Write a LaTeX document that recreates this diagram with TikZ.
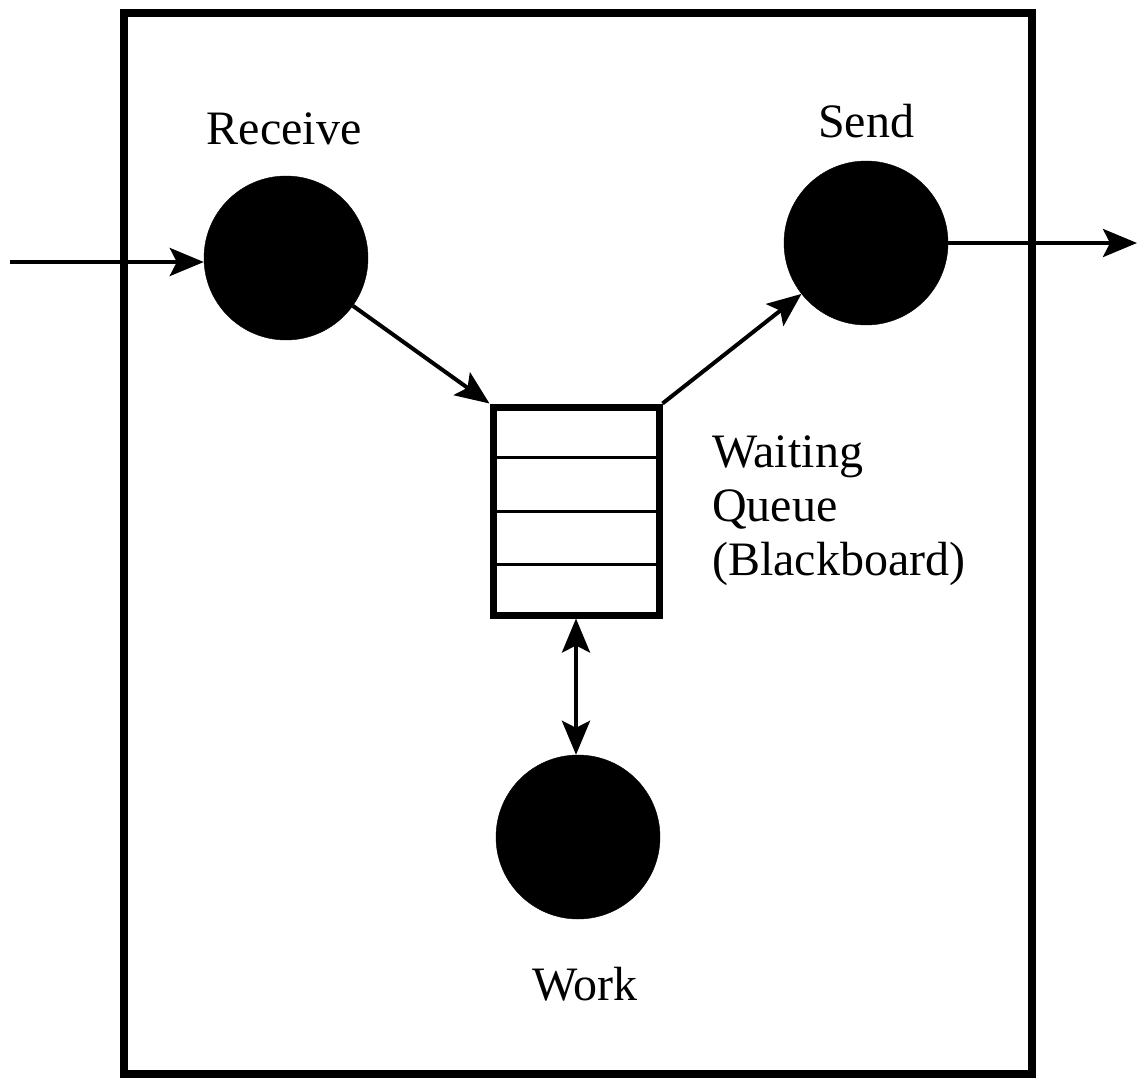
\documentclass[tikz,border=0pt]{standalone}
\usepackage{fontspec}
\setmainfont{Liberation Serif}
\usetikzlibrary{arrows.meta,calc}
\begin{document}
\begin{tikzpicture}[x=1pt,y=-1pt,
  proc/.style={circle,fill=black,draw=black,minimum size=164pt,inner sep=0pt},
  queuebox/.style={draw=black,line width=7pt,minimum width=166pt,minimum height=208pt,inner sep=0pt},
  frame/.style={draw=black,line width=8pt,minimum width=908pt,minimum height=1061pt,inner sep=0pt},
  arr/.style={line width=4pt,-{Stealth[length=34pt,width=28pt,inset=7pt]}},
  darr/.style={line width=4pt,{Stealth[length=34pt,width=28pt,inset=7pt]}-{Stealth[length=34pt,width=28pt,inset=7pt]}},
  lbl/.style={font=\fontsize{48}{54}\selectfont,inner sep=0pt}]
\useasboundingbox (0,0) rectangle (1139,1081);
\node[frame] (box) at (578,543.5) {};
\node[proc] (recv) at (286,258) {};
\node[proc] (send) at (866,243) {};
\node[proc] (work) at (578,837) {};
\node[queuebox] (q) at (576,511) {};
\foreach \f in {0.25,0.5,0.75}
  \draw[line width=3pt] ($(q.north west)!\f!(q.south west)$) -- ($(q.north east)!\f!(q.south east)$);
\node[lbl,anchor=base] (lrecv) at (284,144) {Receive};
\node[lbl,anchor=base] (lsend) at (866,137) {Send};
\node[lbl,anchor=base] (lwork) at (585,1000) {Work};
\node[lbl,anchor=base west,align=left] (lq) at (712,575) {Waiting\\Queue\\(Blackboard)};
\coordinate (in) at (10,262);
\coordinate (out) at (1137,243);
\draw[arr] (in) -- (in -| recv.west);
\draw[arr] (send.east) -- (out);
\draw[arr] (recv) -- (q.north west);
\draw[arr] (q.north east) -- (send);
\draw[darr] (q.south) -- (q.south |- work.north);
\end{tikzpicture}
\end{document}
